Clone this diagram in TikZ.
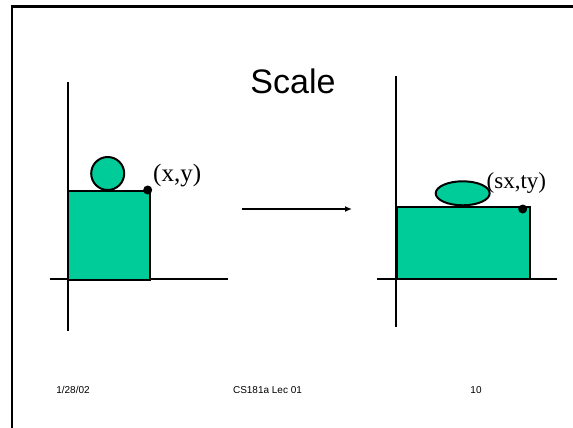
\documentclass[tikz,border=0pt]{standalone}
\usepackage{fontspec}
\setmainfont{Liberation Serif}
\setsansfont{Liberation Sans}
\usetikzlibrary{arrows.meta, shapes.geometric}
\definecolor{shapegreen}{RGB}{0, 204, 153}

\begin{document}
\begin{tikzpicture}[
  x=1pt, y=-1pt,
  axisline/.style={line width=2.4pt},
  solid shape/.style={fill=shapegreen, draw=black, line width=2pt},
  corner dot/.style={circle, fill=black, inner sep=0pt, minimum size=9pt},
  coordlabel/.style={font=\fontsize{25}{28}\selectfont, inner sep=0pt, anchor=west},
  footer/.style={font=\sffamily\fontsize{10}{12}\selectfont, inner sep=0pt},
]
  \useasboundingbox (0,0) rectangle (573,428);

  % Frame (top and left edges only)
  \draw[line width=2.6pt] (12,428) -- (12,6.5) -- (573,6.5);

  % Title
  \node[font=\sffamily\fontsize{34}{40}\selectfont, inner sep=0pt] (title) at (293,81) {Scale};

  % Left: original object
  \draw[axisline] (67.7,82) -- (67.7,330.5);
  \draw[axisline] (50,279) -- (228,279);
  \draw[solid shape] (68,190.5) rectangle (150,280);
  \node[solid shape, circle, minimum size=33pt, inner sep=0pt] (ball) at (107.7,173.5) {};
  \node[corner dot] (pxy) at (147.7,190) {};
  \node[coordlabel] (lxy) at (153,176) {(x,y)};

  % Arrow between the two states
  \coordinate (from) at (241.5,209);
  \coordinate (to) at (352,209);
  \draw[line width=1.5pt, -{Latex[length=7pt, width=6pt]}] (from) -- (to);

  % Right: scaled object
  \draw[axisline] (395.7,76) -- (395.7,327);
  \draw[axisline] (377,279) -- (557,279);
  \draw[solid shape] (396.7,206.7) rectangle (530,279);
  \node[solid shape, ellipse, minimum width=54pt, minimum height=24pt, inner sep=0pt] (egg) at (462.7,193.3) {};
  \node[corner dot] (psxty) at (522.7,209) {};
  \node[coordlabel, font=\fontsize{23}{26}\selectfont] (lsxty) at (486.5,183) {(sx,ty)};

  % Footer
  \node[footer] (date) at (73,390) {1/28/02};
  \node[footer] (course) at (267.5,390) {CS181a Lec 01};
  \node[footer] (page) at (476,390) {10};
\end{tikzpicture}
\end{document}
